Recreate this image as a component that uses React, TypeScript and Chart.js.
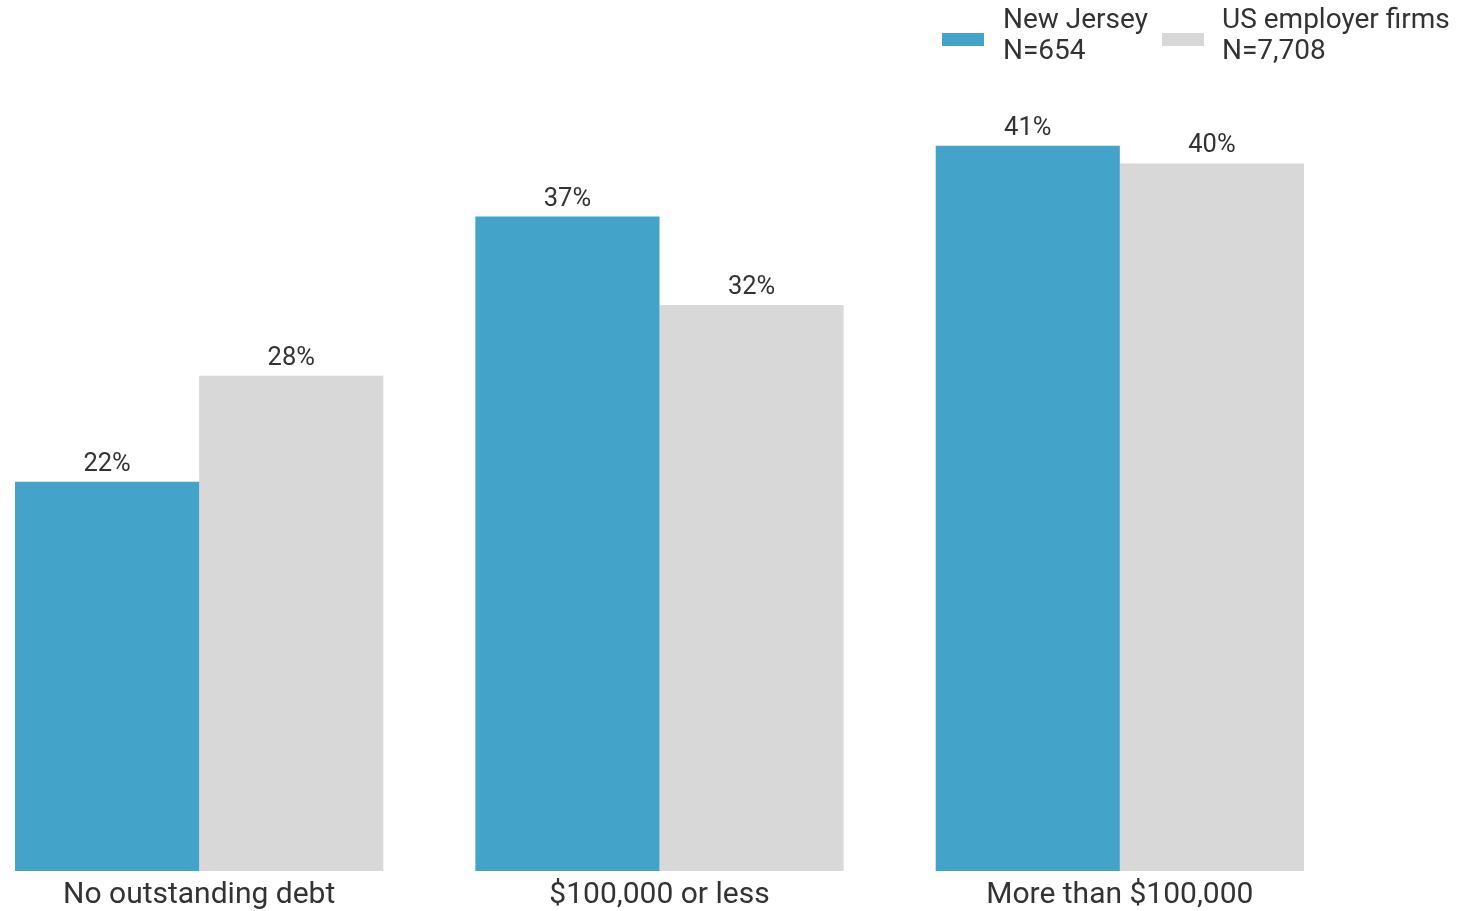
import React, { useEffect, useRef } from "react";
import { Chart, registerables } from "chart.js";

Chart.register(...registerables);

const categories = ["No outstanding debt", "$100,000 or less", "More than $100,000"];
const newJerseyValues = [22, 37, 41];
const usValues = [28, 32, 40];
const seriesNames = ["New Jersey", "US employer firms"];
const seriesCounts = ["N=654", "N=7,708"];
const seriesColors = ["#43A3C8", "#D8D8D8"];

const FONT = "Roboto, 'Noto Sans', sans-serif";
const TEXT = "#333333";
const OFFSET_X = 31;
const CANVAS_H = 920;

const dataLabelPlugin = {
  id: "dataLabels",
  afterDatasetsDraw(chart: any) {
    const ctx = chart.ctx;
    ctx.save();
    ctx.font = `25.5px ${FONT}`;
    ctx.fillStyle = TEXT;
    ctx.textAlign = "center";
    ctx.textBaseline = "alphabetic";
    chart.data.datasets.forEach((ds: any, i: number) => {
      const meta = chart.getDatasetMeta(i);
      meta.data.forEach((el: any, j: number) => {
        ctx.fillText(`${ds.data[j]}%`, el.x, el.y - 11);
      });
    });
    ctx.restore();
  },
};

const legendPlugin = {
  id: "customLegend",
  afterDraw(chart: any) {
    const ctx = chart.ctx;
    ctx.save();
    const swatchX = [942, 1162];
    const textX = [1003, 1222];
    ctx.font = `28px ${FONT}`;
    ctx.textBaseline = "middle";
    ctx.textAlign = "left";
    for (let i = 0; i < 2; i++) {
      ctx.fillStyle = seriesColors[i];
      ctx.fillRect(swatchX[i] + OFFSET_X, 33, 42, 13);
      ctx.fillStyle = TEXT;
      ctx.fillText(seriesNames[i], textX[i] + OFFSET_X, 21);
      ctx.fillText(seriesCounts[i], textX[i] + OFFSET_X, 52);
    }
    ctx.restore();
  },
};

export default function App() {
  const ref = useRef<HTMLCanvasElement>(null);
  useEffect(() => {
    if (!ref.current) return;
    const chart = new Chart(ref.current, {
      type: "bar",
      data: {
        labels: categories,
        datasets: [
          {
            label: seriesNames[0],
            data: newJerseyValues,
            backgroundColor: seriesColors[0],
            borderWidth: 0,
            categoryPercentage: 0.8,
            barPercentage: 1.0,
          },
          {
            label: seriesNames[1],
            data: usValues,
            backgroundColor: seriesColors[1],
            borderWidth: 0,
            categoryPercentage: 0.8,
            barPercentage: 1.0,
          },
        ],
      },
      options: {
        responsive: false,
        animation: false,
        layout: { padding: { left: 0, right: 110, top: 75, bottom: 1 } },
        plugins: {
          legend: { display: false },
          tooltip: { enabled: false },
        },
        scales: {
          x: {
            grid: { display: false, drawTicks: false },
            border: { display: false },
            ticks: {
              color: TEXT,
              font: { family: FONT, size: 30 },
              padding: 6,
              maxRotation: 0,
            },
          },
          y: {
            display: false,
            min: 0,
            max: 45,
          },
        },
      },
      plugins: [dataLabelPlugin, legendPlugin],
    });
    return () => chart.destroy();
  }, []);
  return (
    <div
      style={{
        position: "fixed",
        left: 0,
        top: 0,
        width: 1460,
        height: 911,
        overflow: "hidden",
        background: "#ffffff",
      }}
    >
      <canvas
        ref={ref}
        width={1491}
        height={CANVAS_H}
        style={{ position: "absolute", left: -OFFSET_X, top: 0, width: 1491, height: CANVAS_H }}
      />
    </div>
  );
}
